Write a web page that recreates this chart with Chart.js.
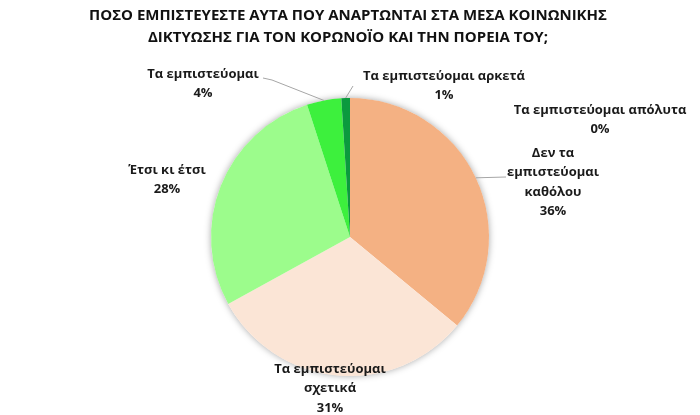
<!DOCTYPE html>
<html>
<head>
<meta charset="utf-8">
<script src="https://cdn.jsdelivr.net/npm/chart.js@4.4.1/dist/chart.umd.min.js"></script>
<style>
  html, body { margin: 0; padding: 0; background: #fff; }
  #wrap { width: 700px; height: 415px; position: relative; }
</style>
</head>
<body>
<div id="wrap"><canvas id="pie-chart" width="700" height="415"></canvas></div>
<script>
// data
var categories = ['Τα εμπιστεύομαι απόλυτα', 'Δεν τα εμπιστεύομαι καθόλου', 'Τα εμπιστεύομαι σχετικά', 'Έτσι κι έτσι', 'Τα εμπιστεύομαι', 'Τα εμπιστεύομαι αρκετά'];
var labelLines = [['Τα εμπιστεύομαι απόλυτα'], ['Δεν τα', 'εμπιστεύομαι', 'καθόλου'], ['Τα εμπιστεύομαι', 'σχετικά'], ['Έτσι κι έτσι'], ['Τα εμπιστεύομαι'], ['Τα εμπιστεύομαι αρκετά']];
var values = [0, 36, 31, 28, 4, 1];
var colors = ['#4472C4', '#F4B183', '#FBE5D6', '#9CFC8C', '#3DF03D', '#0B9A3E'];
var titleLines = ['ΠΟΣΟ ΕΜΠΙΣΤΕΥΕΣΤΕ ΑΥΤΑ ΠΟΥ ΑΝΑΡΤΩΝΤΑΙ ΣΤΑ ΜΕΣΑ ΚΟΙΝΩΝΙΚΗΣ', 'ΔΙΚΤΥΩΣΗΣ ΓΙΑ ΤΟΝ ΚΟΡΩΝΟΪΟ ΚΑΙ ΤΗΝ ΠΟΡΕΙΑ ΤΟΥ;'];

// where each label block sits (center x, first line y) and its leader line
var labelPos = [
    { x: 600, y: 110, leader: null },
    { x: 553, y: 153, leader: [[506, 177]] },
    { x: 330, y: 369, leader: null },
    { x: 167, y: 170, leader: null },
    { x: 203, y: 74, leader: [[272, 80], [263, 78]] },
    { x: 444, y: 76, leader: [[353, 86]] }
];

var labelFont = 'bold 13px "Open Sans", sans-serif';
var lineH = 19.5;

var pieDecor = {
    id: 'pieDecor',
    beforeDatasetsDraw: function(chart) {
        var ctx = chart.ctx;
        var arc = chart.getDatasetMeta(0).data[1];
        ctx.save();
        ctx.shadowColor = 'rgba(0,0,0,0.35)';
        ctx.shadowBlur = 7;
        ctx.fillStyle = '#fff';
        ctx.beginPath();
        ctx.arc(arc.x, arc.y, arc.outerRadius, 0, Math.PI * 2);
        ctx.fill();
        ctx.restore();
    },
    afterDraw: function(chart) {
        var ctx = chart.ctx;
        ctx.save();
        // title
        ctx.fillStyle = '#111';
        ctx.font = 'bold 15px "Open Sans", sans-serif';
        ctx.textAlign = 'center';
        ctx.textBaseline = 'middle';
        titleLines.forEach(function(t, i) {
            ctx.fillText(t, 348, 16 + i * 22);
        });

        var meta = chart.getDatasetMeta(0);
        var total = values.reduce(function(a, b) { return a + b; }, 0);
        meta.data.forEach(function(arc, i) {
            var p = labelPos[i];
            if (p.leader) {
                var mid = (arc.startAngle + arc.endAngle) / 2;
                ctx.strokeStyle = '#a6a6a6';
                ctx.lineWidth = 1;
                ctx.beginPath();
                ctx.moveTo(arc.x + Math.cos(mid) * arc.outerRadius, arc.y + Math.sin(mid) * arc.outerRadius);
                p.leader.forEach(function(pt) { ctx.lineTo(pt[0], pt[1]); });
                ctx.stroke();
            }
            ctx.fillStyle = '#1a1a1a';
            ctx.font = labelFont;
            var lines = labelLines[i].concat([Math.round(values[i] / total * 100) + '%']);
            lines.forEach(function(t, j) {
                ctx.fillText(t, p.x, p.y + j * lineH);
            });
        });
        ctx.restore();
    }
};

var ctx = document.getElementById('pie-chart').getContext('2d');
var chart = new Chart(ctx, {
    type: 'pie',
    data: {
        labels: categories,
        datasets: [{
            data: values,
            backgroundColor: colors,
            borderWidth: 0
        }]
    },
    options: {
        responsive: false,
        animation: false,
        layout: {
            padding: { top: 98, bottom: 39, left: 211, right: 211 }
        },
        plugins: {
            legend: { display: false },
            tooltip: { enabled: false },
            title: { display: false }
        }
    },
    plugins: [pieDecor]
});
</script>
</body>
</html>
